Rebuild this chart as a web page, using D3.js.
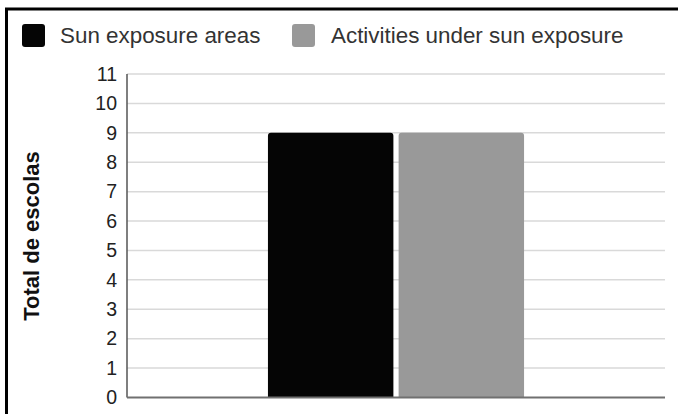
<!DOCTYPE html>
<html>
<head>
<meta charset="utf-8">
<script src="https://cdn.jsdelivr.net/npm/d3@7"></script>
<style>
  html, body { margin: 0; padding: 0; background: #fff; }
  svg { display: block; }
</style>
</head>
<body>
<svg id="chart" width="678" height="414"></svg>
<script>
// Chart data
const categories = ["Escolas"];
const seriesNames = ["Sun exposure areas", "Activities under sun exposure"];
const seriesValues = [9, 9];
const seriesColors = ["#050505", "#999999"];
const yTicks = [0, 1, 2, 3, 4, 5, 6, 7, 8, 9, 10, 11];
const yTitle = "Total de escolas";

const svg = d3.select("#chart");
const W = 678, H = 414;
const font = "'Liberation Sans', Arial, sans-serif";

// Frame (top and left edges)
svg.append("path")
  .attr("d", `M6.5,${H} L6.5,9 L${W},9`)
  .attr("fill", "none")
  .attr("stroke", "#000")
  .attr("stroke-width", 3);

const plot = { left: 127, right: 665, top: 74, bottom: 397.5 };

const y = d3.scaleLinear().domain([0, 11]).range([plot.bottom, plot.top]);
const x0 = d3.scaleBand().domain(categories).range([plot.left, plot.right])
  .paddingInner(0.355).paddingOuter(0.355);
const x1 = d3.scaleBand().domain(seriesNames).range([0, x0.bandwidth()]).paddingInner(0.04);

// Gridlines
svg.append("g")
  .selectAll("line")
  .data(yTicks.filter(t => t > 0))
  .join("line")
  .attr("x1", plot.left).attr("x2", plot.right)
  .attr("y1", d => y(d)).attr("y2", d => y(d))
  .attr("stroke", "#d9d9d9")
  .attr("stroke-width", 1.5);

// Y axis labels
const yAxis = d3.axisLeft(y).tickValues(yTicks).tickSize(0).tickPadding(10);
const gy = svg.append("g").attr("transform", `translate(${plot.left},0)`).call(yAxis);
gy.select(".domain").remove();
gy.selectAll("text")
  .attr("font-family", font)
  .attr("font-size", 19.5)
  .attr("fill", "#222");

// Bars
const groups = svg.append("g")
  .selectAll("g")
  .data(categories)
  .join("g")
  .attr("transform", d => `translate(${x0(d)},0)`);

groups.selectAll("path")
  .data(() => seriesNames.map((s, i) => ({ s, v: seriesValues[i], c: seriesColors[i] })))
  .join("path")
  .attr("d", d => {
    const bx = x1(d.s), bw = x1.bandwidth(), by = y(d.v), bb = y(0), r = 3;
    return `M${bx},${bb} L${bx},${by + r} Q${bx},${by} ${bx + r},${by} L${bx + bw - r},${by} Q${bx + bw},${by} ${bx + bw},${by + r} L${bx + bw},${bb} Z`;
  })
  .attr("fill", d => d.c);

// Left axis line and baseline
svg.append("line")
  .attr("x1", plot.left).attr("x2", plot.left)
  .attr("y1", plot.top).attr("y2", plot.bottom)
  .attr("stroke", "#555").attr("stroke-width", 1.5);
svg.append("line")
  .attr("x1", plot.left).attr("x2", plot.right)
  .attr("y1", y(0)).attr("y2", y(0))
  .attr("stroke", "#707070").attr("stroke-width", 2);

// Y axis title
svg.append("text")
  .attr("transform", `translate(39,236) rotate(-90)`)
  .attr("text-anchor", "middle")
  .attr("font-family", font)
  .attr("font-weight", "bold")
  .attr("font-size", 22)
  .attr("fill", "#111")
  .text(yTitle);

// Legend
const legendX = [22, 292];
const legend = svg.append("g")
  .selectAll("g")
  .data(seriesNames)
  .join("g")
  .attr("transform", (d, i) => `translate(${legendX[i]},24)`);
legend.append("rect")
  .attr("width", 23).attr("height", 23)
  .attr("rx", 3)
  .attr("fill", (d, i) => seriesColors[i]);
legend.append("text")
  .attr("x", (d, i) => i === 0 ? 38 : 39)
  .attr("y", 18.5)
  .attr("font-family", font)
  .attr("font-size", 22.4)
  .attr("fill", "#333")
  .text(d => d);
</script>
</body>
</html>
